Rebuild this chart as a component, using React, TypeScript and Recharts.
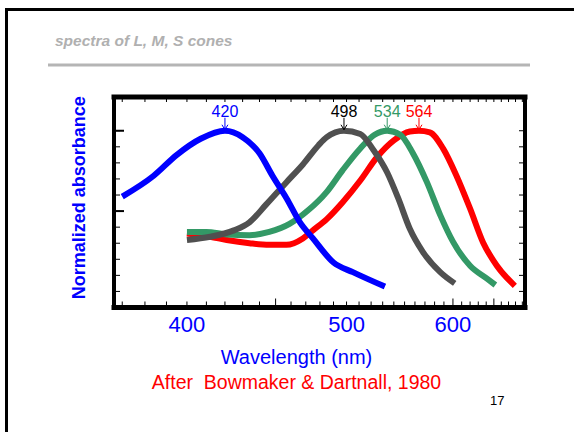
import { LineChart, Line, XAxis, YAxis, ReferenceDot } from "recharts";

// wavelengths in nm, absorbance normalised to the peak
const sNm = [370, 384, 395, 407, 420, 430, 440, 448, 457, 466, 475, 490, 505, 532];
const sAbs = [0.59, 0.72, 0.85, 0.95, 1.0, 0.96, 0.86, 0.72, 0.58, 0.43, 0.33, 0.18, 0.12, 0.03];

const rodNm = [400, 412, 425, 434, 444, 457, 468, 479, 485, 498, 511, 522, 534, 544, 555, 568, 586, 602];
const rodAbs = [0.32, 0.34, 0.38, 0.43, 0.54, 0.68, 0.79, 0.91, 0.96, 1.0, 0.98, 0.88, 0.74, 0.58, 0.39, 0.245, 0.12, 0.05];

const mNm = [400, 410, 421, 434, 446, 459, 471, 485, 497, 511, 523, 534, 546, 558, 572, 586, 600, 620, 641, 652];
const mAbs = [0.37, 0.37, 0.355, 0.35, 0.37, 0.42, 0.5, 0.62, 0.755, 0.89, 0.975, 1.0, 0.975, 0.86, 0.68, 0.475, 0.31, 0.16, 0.08, 0.04];

const lNm = [400, 412, 421, 434, 446, 457, 468, 475, 485, 497, 511, 525, 540, 555, 564, 575, 589, 604, 620, 636, 654, 679];
const lAbs = [0.36, 0.34, 0.32, 0.3, 0.29, 0.29, 0.33, 0.38, 0.45, 0.555, 0.69, 0.835, 0.94, 0.995, 1.0, 0.99, 0.89, 0.72, 0.515, 0.305, 0.16, 0.035];

const peakNm = [420, 498, 534, 564];
const peakColors = ["#0000ff", "#000000", "#339966", "#ff0000"];

const labelNm = [400, 500, 600];
const minorNm = [370, 380, 390, 400, 410, 420, 430, 440, 450, 460, 470, 480, 490, 500, 510, 520, 530, 540, 550, 560, 570, 580, 590, 600, 610, 620, 630, 640, 650, 660, 670, 680, 690];
const majorNm = [450, 600, 650];
const absTicks = [0, 0.1, 0.2, 0.3, 0.4, 0.5, 0.6, 0.7, 0.8, 0.9, 1.0];
const absMajor = [0.5, 1.0];

const NM_MIN = 366.5;
const NM_MAX = 694;

const MARGIN = { top: 97, right: 49, bottom: 94.5, left: 114 };
const AXIS_H = 30;
const PLOT_H = 432 - MARGIN.top - MARGIN.bottom - AXIS_H;

// the original plot is drawn on a wavenumber scale
const toK = (nm: number) => 1e7 / nm;
const series = (nm: number[], abs: number[]) => nm.map((w, i) => ({ k: toK(w), v: abs[i] }));

const kDomain = [toK(NM_MAX), toK(NM_MIN)];
const yDomain = [-0.1, 1.21];
const font = "'Liberation Sans', Arial, Helvetica, sans-serif";
const blank = () => "";

// bottom axis tick: short inward marks on bottom and top edge, label on the round hundreds
function WaveTick(props: any) {
  const { x, y, payload } = props;
  const nm = Math.round(1e7 / payload.value);
  const len = majorNm.includes(nm) ? 9 : 6;
  return (
    <g>
      <line x1={x} x2={x} y1={y} y2={y - len} stroke="#000" strokeWidth={1} />
      <line x1={x} x2={x} y1={y - PLOT_H} y2={y - PLOT_H + 5} stroke="#000" strokeWidth={1} />
      {labelNm.includes(nm) && (
        <text x={x} y={y + 24.5} textAnchor="middle" fontSize={22} fontFamily={font} fill="#0000ff">
          {nm}
        </text>
      )}
    </g>
  );
}

function PeakMarker(props: any) {
  const { cx, cy, text, color } = props;
  return (
    <g>
      <line x1={cx} y1={cy - 13} x2={cx} y2={cy - 1} stroke={color} strokeWidth={1} />
      <path d={`M${cx - 3},${cy - 6} L${cx},${cy - 1} L${cx + 3},${cy - 6}`} fill="none" stroke={color} strokeWidth={1} />
      <text x={cx} y={cy - 14} textAnchor="middle" fontSize={16} fontFamily={font} fill={color}>
        {text}
      </text>
    </g>
  );
}

export default function App() {
  const frame = { stroke: "#000", strokeWidth: 5, strokeLinecap: "square" as const };
  const side = { stroke: "#000", strokeWidth: 4, strokeLinecap: "square" as const };
  const tickStroke = { stroke: "#000", strokeWidth: 1 };

  return (
    <div style={{ position: "absolute", left: 0, top: 0, width: 574, height: 432, background: "#fff" }}>
      <LineChart width={574} height={432} margin={MARGIN}>
        <XAxis
          xAxisId="nm"
          type="number"
          dataKey="k"
          domain={kDomain}
          allowDataOverflow
          reversed
          ticks={minorNm.map(toK)}
          interval={0}
          tickLine={false}
          tickSize={0}
          tickMargin={0}
          axisLine={frame}
          tick={<WaveTick />}
          height={AXIS_H}
        />
        <XAxis xAxisId="top" orientation="top" type="number" domain={kDomain} allowDataOverflow reversed mirror height={1}
          tick={false} tickLine={false} axisLine={frame} />
        <YAxis yAxisId="left" type="number" domain={yDomain} allowDataOverflow mirror width={1}
          ticks={absTicks} tickSize={6} tickLine={tickStroke} axisLine={side} tickFormatter={blank} />
        <YAxis yAxisId="leftMajor" type="number" domain={yDomain} allowDataOverflow mirror width={1}
          ticks={absMajor} tickSize={9} tickLine={{ stroke: "#000", strokeWidth: 2 }} axisLine={false} tickFormatter={blank} />
        <YAxis yAxisId="right" orientation="right" type="number" domain={yDomain} allowDataOverflow mirror width={1}
          ticks={absTicks} tickSize={6} tickLine={tickStroke} axisLine={side} tickFormatter={blank} />

        <Line xAxisId="nm" yAxisId="left" data={series(lNm, lAbs)} dataKey="v" type="monotone"
          stroke="#ff0000" strokeWidth={6} dot={false} isAnimationActive={false} />
        <Line xAxisId="nm" yAxisId="left" data={series(mNm, mAbs)} dataKey="v" type="monotone"
          stroke="#339966" strokeWidth={6} dot={false} isAnimationActive={false} />
        <Line xAxisId="nm" yAxisId="left" data={series(rodNm, rodAbs)} dataKey="v" type="monotone"
          stroke="#505050" strokeWidth={6} dot={false} isAnimationActive={false} />
        <Line xAxisId="nm" yAxisId="left" data={series(sNm, sAbs)} dataKey="v" type="monotone"
          stroke="#0000ff" strokeWidth={6} dot={false} isAnimationActive={false} />

        {peakNm.map((nm, i) => (
          <ReferenceDot
            key={nm}
            xAxisId="nm"
            yAxisId="left"
            x={toK(nm)}
            y={1}
            r={0}
            shape={(p: any) => <PeakMarker {...p} text={String(nm)} color={peakColors[i]} />}
          />
        ))}
      </LineChart>

      <svg width={574} height={432} style={{ position: "absolute", left: 0, top: 0, pointerEvents: "none" }}>
        <line x1={5} y1={9.5} x2={574} y2={9.5} stroke="#000" strokeWidth={3} />
        <line x1={6.5} y1={8} x2={6.5} y2={432} stroke="#000" strokeWidth={3} />
        <text x={55} y={46} fontSize={15.5} fontWeight="bold" fontStyle="italic" fontFamily={font} fill="#b0b0b0">
          spectra of L, M, S cones
        </text>
        <line x1={48} y1={65} x2={530} y2={65} stroke="#b5b5b5" strokeWidth={3} />
        <text x={85} y={197.7} transform="rotate(-90 85 197.7)" textAnchor="middle" fontSize={18}
          fontWeight="bold" fontFamily={font} fill="#0000ff">
          Normalized absorbance
        </text>
        <text x={296.5} y={363.5} textAnchor="middle" fontSize={20} fontFamily={font} fill="#0000ff">
          Wavelength (nm)
        </text>
        <text x={296.5} y={389.3} textAnchor="middle" fontSize={19.5} fontFamily={font} fill="#ff0000"
          style={{ whiteSpace: "pre" }}>
          {"After  Bowmaker & Dartnall, 1980"}
        </text>
        <text x={490} y={405} fontSize={13} fontFamily={font} fill="#000">
          17
        </text>
      </svg>
    </div>
  );
}
